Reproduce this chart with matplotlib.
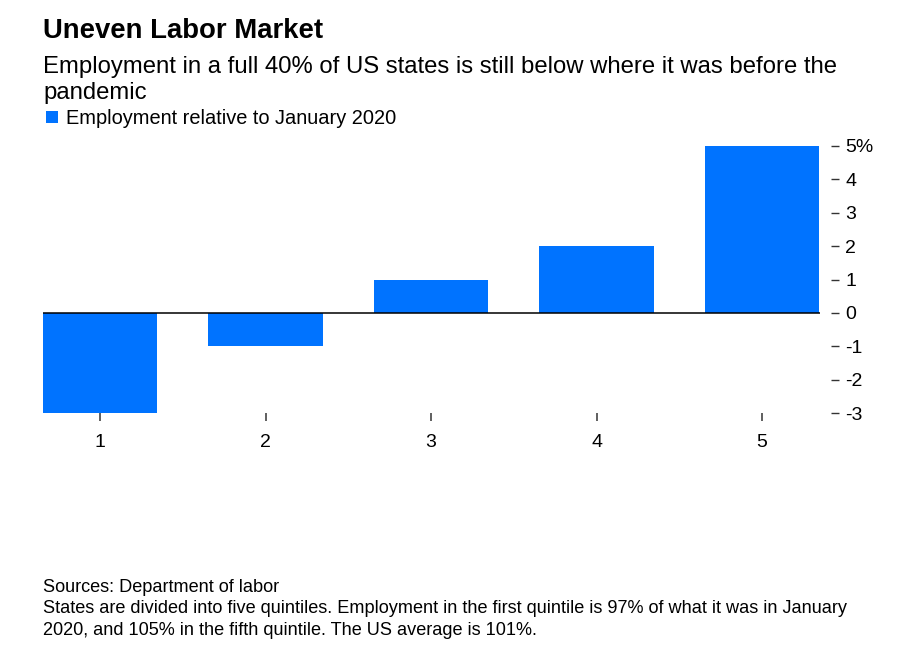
import matplotlib
matplotlib.use("Agg")
import matplotlib.pyplot as plt
from matplotlib.patches import Rectangle

plt.rcParams['font.family'] = ['Liberation Sans', 'DejaVu Sans']

quintiles = ["1", "2", "3", "4", "5"]
values = [-3, -1, 1, 2, 5]
yticks = [-3, -2, -1, 0, 1, 2, 3, 4, 5]
ytick_labels = ["-3", "-2", "-1", "0", "1", "2", "3", "4", "5%"]

title = "Uneven Labor Market"
subtitle_lines = ["Employment in a full 40% of US states is still below where it was before the",
                  "pandemic"]
legend_label = "Employment relative to January 2020"
source = "Sources: Department of labor"
note_lines = ["States are divided into five quintiles. Employment in the first quintile is 97% of what it was in January",
              "2020, and 105% in the fifth quintile. The US average is 101%."]

BLUE = "#0073ff"
W, H = 911, 654
fig = plt.figure(figsize=(W / 100, H / 100), dpi=100)

def fy(px):
    return 1 - px / H

left, right, top, bottom = 43, 820, 146, 413
ax = fig.add_axes([left / W, fy(bottom), (right - left) / W, (bottom - top) / H])

x = list(range(1, len(quintiles) + 1))
ax.bar(x, values, width=0.69, color=BLUE, zorder=2)
ax.axhline(0, color="black", lw=1.1, zorder=3)
ax.set_xlim(0.655, 5.35)
ax.set_ylim(-3, 5)

for s in ax.spines.values():
    s.set_visible(False)
ax.spines['right'].set_position(('outward', 8))

ax.yaxis.tick_right()
ax.set_yticks(yticks)
ax.set_yticklabels(ytick_labels)
ax.tick_params(axis='y', length=6, width=1, color='#333333', pad=4, labelsize=14)
ax.set_xticks(x)
ax.set_xticklabels(quintiles)
ax.tick_params(axis='x', length=6, width=1.2, color='#444444', pad=9, labelsize=14)

fig.text(43 / W, fy(38), title, fontsize=19.8, fontweight='bold', va='baseline', ha='left')
for i, line in enumerate(subtitle_lines):
    fig.text(43 / W, fy(73 + 26 * i), line, fontsize=17.2, va='baseline', ha='left')
fig.patches.append(Rectangle((46 / W, fy(123)), 12 / W, 12 / H, transform=fig.transFigure,
                             facecolor=BLUE, edgecolor='none'))
fig.text(66 / W, fy(124), legend_label, fontsize=14.4, va='baseline', ha='left')
fig.text(43 / W, fy(592), source, fontsize=13.1, va='baseline', ha='left')
for i, line in enumerate(note_lines):
    fig.text(43 / W, fy(613 + 22 * i), line, fontsize=13.1, va='baseline', ha='left')

fig.savefig("out.png", dpi=100)
